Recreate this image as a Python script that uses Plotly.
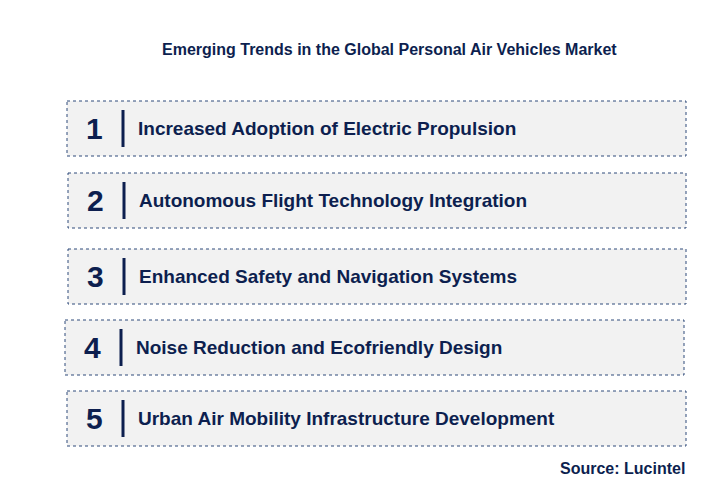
import plotly.graph_objects as go

numbers = ["1", "2", "3", "4", "5"]
labels = [
    "Increased Adoption of Electric Propulsion",
    "Autonomous Flight Technology Integration",
    "Enhanced Safety and Navigation Systems",
    "Noise Reduction and Ecofriendly Design",
    "Urban Air Mobility Infrastructure Development",
]
title = "Emerging Trends in the Global Personal Air Vehicles Market"
source = "Source: Lucintel"

box_x0 = [66, 67, 67, 64, 66]
box_x1 = [685, 685, 685, 683, 685]
box_y0 = [100, 172, 248, 319, 390]
box_h = 55
navy = "#0d1f4f"
font = "Liberation Sans, Arial"

fig = go.Figure()
shapes, ann = [], []
for i, (n, lab) in enumerate(zip(numbers, labels)):
    y0 = box_y0[i]; y1 = y0 + box_h; yc = (y0 + y1) / 2
    x0 = box_x0[i]
    shapes.append(dict(type="rect", x0=x0, x1=box_x1[i], y0=y0, y1=y1,
                       fillcolor="#f2f2f2", line=dict(color="#2f4a7a", width=1, dash="dot")))
    shapes.append(dict(type="line", x0=x0 + 56, x1=x0 + 56, y0=y0 + 9, y1=y1 - 9,
                       line=dict(color=navy, width=3)))
    ann.append(dict(x=x0 + 27, y=yc, text=f"<b>{n}</b>", showarrow=False,
                    font=dict(size=30, color=navy, family=font), xanchor="center", yanchor="middle"))
    ann.append(dict(x=x0 + 69, y=yc, text=f"<b>{lab}</b>", showarrow=False,
                    font=dict(size=19, color=navy, family=font), xanchor="left", yanchor="middle"))

ann.append(dict(x=388, y=48, text=f"<b>{title}</b>", showarrow=False,
                font=dict(size=16, color=navy, family=font), xanchor="center", yanchor="middle"))
ann.append(dict(x=686, y=467, text=f"<b>{source}</b>", showarrow=False,
                font=dict(size=16, color=navy, family=font), xanchor="right", yanchor="middle"))

fig.update_layout(width=712, height=501, margin=dict(l=0, r=0, t=0, b=0),
                  plot_bgcolor="white", paper_bgcolor="white",
                  shapes=shapes, annotations=ann, showlegend=False,
                  xaxis=dict(range=[7, 719], visible=False, fixedrange=True),
                  yaxis=dict(range=[508, 7], visible=False, fixedrange=True))
fig.write_html("out.html")
